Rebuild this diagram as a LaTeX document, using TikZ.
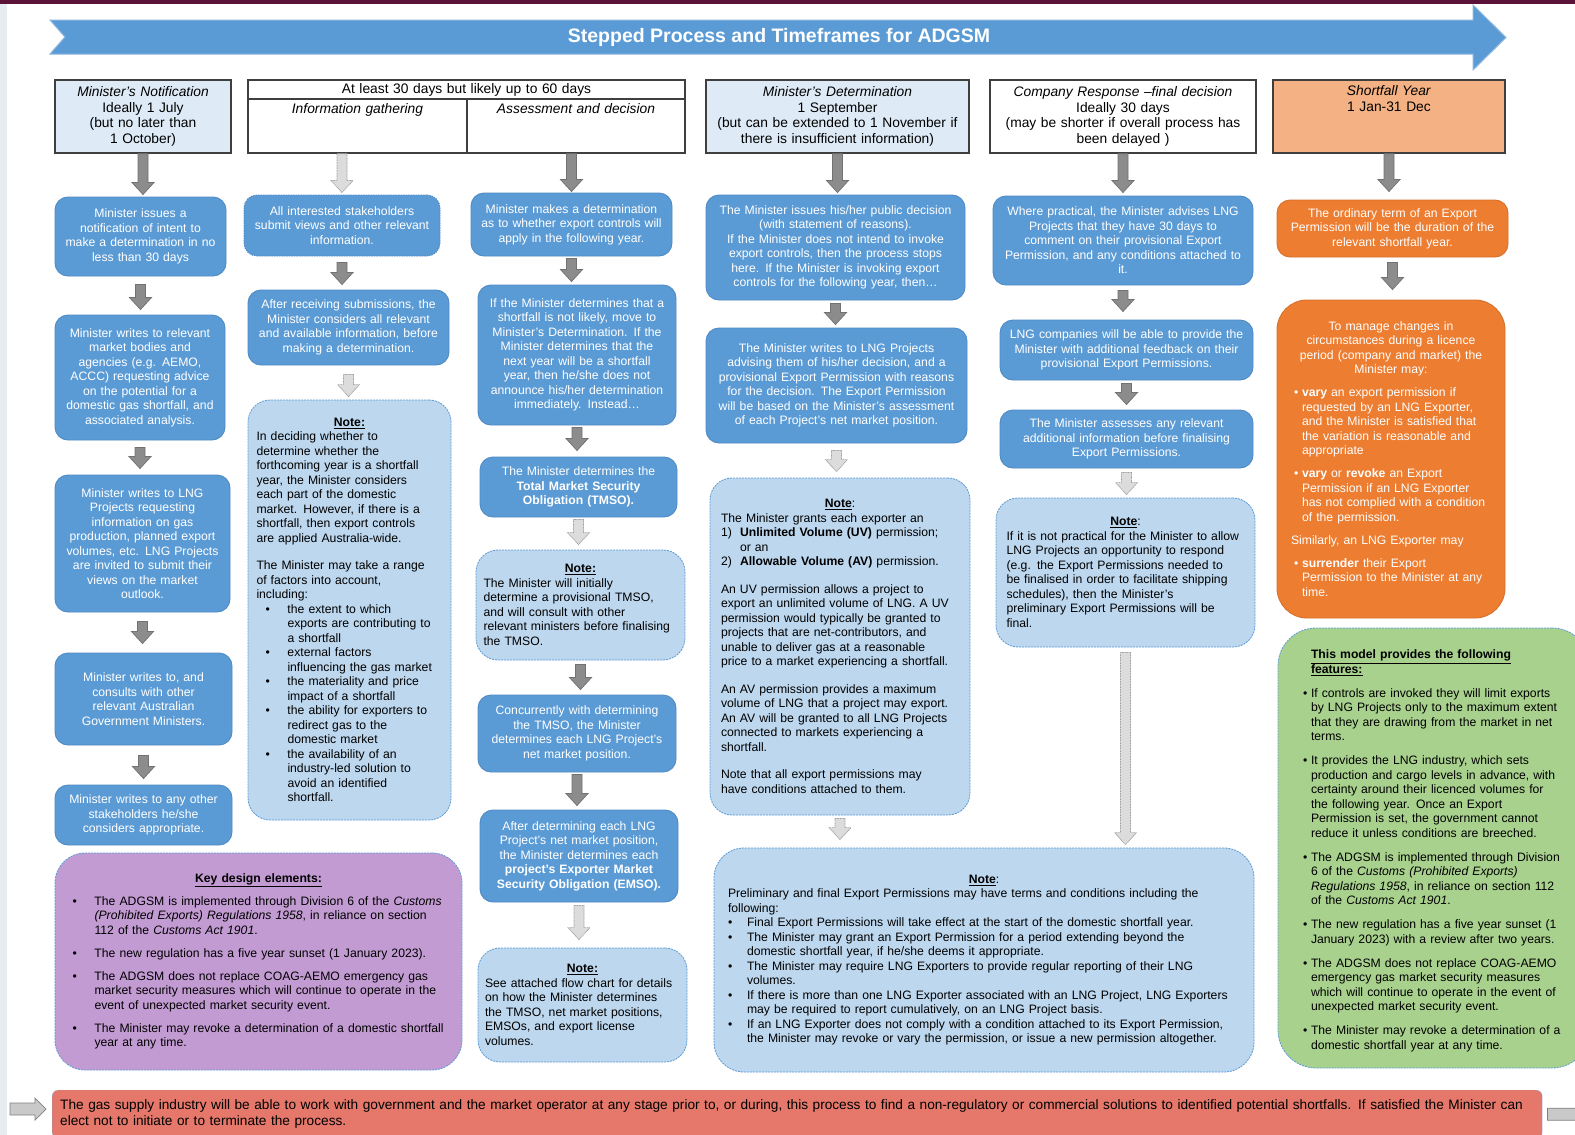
\documentclass[tikz,border=0pt]{standalone}
\usepackage{fontspec}
\setmainfont{Liberation Sans}
\usetikzlibrary{calc}

\definecolor{topband}{HTML}{5A1238}
\definecolor{leftband}{HTML}{E6ECEF}
\definecolor{titleblue}{HTML}{5B9BD5}
\definecolor{titleline}{HTML}{8DB6E0}
\definecolor{boxblue}{HTML}{5B9BD5}
\definecolor{boxline}{HTML}{4F8AC4}
\definecolor{noteblue}{HTML}{BDD7EE}
\definecolor{hdrblue}{HTML}{DEEBF7}
\definecolor{hdrorange}{HTML}{F4B183}
\definecolor{hdrline}{HTML}{3F3F3F}
\definecolor{orangebox}{HTML}{ED7D31}
\definecolor{greenbox}{HTML}{A9D18E}
\definecolor{purplebox}{HTML}{C39BD3}
\definecolor{barred}{HTML}{E5786A}
\definecolor{arrdark}{HTML}{8C8C8C}
\definecolor{arrdarkline}{HTML}{727272}
\definecolor{arrlight}{HTML}{DCDCDC}
\definecolor{arrlightline}{HTML}{A0A0A0}

\newcommand{\hitem}[4]{\par\noindent\hangindent=#3\hangafter=1\hspace*{#2}\makebox[\dimexpr#3-#2\relax][l]{#1}#4\par}

\begin{document}
\begin{tikzpicture}[x=1pt,y=-1pt]
\tikzstyle{hdr}=[draw=hdrline, line width=1.3pt, align=center, inner sep=0pt,
                 font=\fontsize{13.8}{15.5}\selectfont]
\tikzstyle{blbox}=[rounded corners=13pt, fill=boxblue, draw=boxline, line width=0.9pt,
                   text=white, align=center, inner sep=0pt,
                   font=\fontsize{12.2}{14.5}\selectfont]
\tikzstyle{notebox}=[rounded corners=22pt, fill=noteblue, draw=boxblue, line width=0.8pt,
                     dash pattern=on 2pt off 1pt, align=left, inner sep=0pt,
                     font=\fontsize{12.2}{14.5}\selectfont]
\tikzstyle{orbox}=[blbox, fill=orangebox, draw=orangebox!90!black]
\tikzstyle{blk}=[fill=arrdark, draw=arrdarkline, line width=0.7pt,
  to path={let \p1=(\tikztostart), \p2=(\tikztotarget) in
    (\x1-5,\y1) -- (\x1+5,\y1) -- (\x1+5,\y2+12) -- (\x1+11,\y2+12)
    -- (\x1,\y2) -- (\x1-11,\y2+12) -- (\x1-5,\y2+12) -- cycle}]
\tikzstyle{blklight}=[blk, fill=arrlight, draw=arrlightline, dash pattern=on 1pt off 0.6pt]
\tikzstyle{blkh}=[fill=arrlight!80!gray, draw=arrlightline!80!black, line width=0.7pt,
  to path={let \p1=(\tikztostart), \p2=(\tikztotarget) in
    (\x1,\y1+6) -- (\x2-11,\y1+6) -- (\x2-11,\y1+11) -- (\x2,\y1)
    -- (\x2-11,\y1-11) -- (\x2-11,\y1-6) -- (\x1,\y1-6) -- cycle}]

\useasboundingbox (0,0) rectangle (1575,1135);
\fill[white] (0,0) rectangle (1575,1135);
\fill[topband] (0,0) rectangle (1575,3.5);
\fill[leftband] (0,3.5) rectangle (7,1135);

\filldraw[fill=titleblue, draw=titleline, line width=1pt] (50,20) -- (1473,20) -- (1473,5)
  -- (1506,37.5) -- (1473,70) -- (1473,54) -- (50,54) -- (65,37) -- cycle;
\node[text=white, font=\bfseries\fontsize{19.5}{22}\selectfont] (title) at (779,37)
  {Stepped Process and Timeframes for ADGSM};

\node[hdr, fill=hdrblue, minimum width=176, minimum height=73, text width=174] (hnotif) at (143,116.5)
  {\textit{Minister's Notification}\\ Ideally 1 July\\ (but no later than\\ 1 October)};
\node[hdr, fill=white, minimum width=437, minimum height=19, text width=435] (hperiod) at (466.5,89.5)
  {At least 30 days but likely up to 60 days};
\node[hdr, minimum width=219, minimum height=54, text width=215] (hinfo) at (357.5,126)
  {\textit{Information gathering}\\ \strut\\ \strut};
\node[hdr, minimum width=218, minimum height=54, text width=214] (hassess) at (576,126)
  {\textit{Assessment and decision}\\ \strut\\ \strut};
\node[hdr, fill=hdrblue, minimum width=263, minimum height=73, text width=261] (hdeterm) at (837.5,116.5)
  {\textit{Minister's Determination}\\ 1 September\\ (but can be extended to 1 November if\\ there is insufficient information)};
\node[hdr, fill=white, minimum width=266, minimum height=73, text width=264] (hresp) at (1123,116.5)
  {\textit{Company Response –final decision}\\ Ideally 30 days\\ (may be shorter if overall process has\\ been delayed )};
\node[hdr, fill=hdrorange, minimum width=232, minimum height=73, text width=230] (hshort) at (1389,116.5)
  {\textit{Shortfall Year}\\ 1 Jan-31 Dec\\ \strut\\ \strut};

\node[blbox, minimum width=171, minimum height=79, text width=169] (issue) at (140.5,236.5)
  {Minister issues a\\ notification of intent to\\ make a determination in no\\ less than 30 days};
\node[blbox, minimum width=170, minimum height=125, text width=168] (bodies) at (140,377.5)
  {Minister writes to relevant\\ market bodies and\\ agencies (e.g. AEMO,\\ ACCC) requesting advice\\ on the potential for a\\ domestic gas shortfall, and\\ associated analysis.};
\node[blbox, minimum width=175, minimum height=137, text width=173] (lngreq) at (142.5,543.5)
  {Minister writes to LNG\\ Projects requesting\\ information on gas\\ production, planned export\\ volumes, etc. LNG Projects\\ are invited to submit their\\ views on the market\\ outlook.};
\node[blbox, minimum width=177, minimum height=92, text width=175] (govmin) at (143.5,699)
  {Minister writes to, and\\ consults with other\\ relevant Australian\\ Government Ministers.};
\node[blbox, minimum width=177, minimum height=60, text width=175] (others) at (143.5,815)
  {Minister writes to any other\\ stakeholders he/she\\ considers appropriate.};

\node[blbox, dash pattern=on 1.5pt off 1pt, minimum width=196, minimum height=61, text width=194] (submit) at (342,225.5)
  {All interested stakeholders\\ submit views and other relevant\\ information.};
\node[blbox, minimum width=201, minimum height=75, text width=199] (consider) at (348.5,327.5)
  {After receiving submissions, the\\ Minister considers all relevant\\ and available information, before\\ making a determination.};
\node[notebox, minimum width=203, minimum height=420, text width=186] (factors) at (349.5,610)
  {{\centering\underline{\textbf{Note:}}\par}
   In deciding whether to\\ determine whether the\\ forthcoming year is a shortfall\\ year, the Minister considers\\ each part of the domestic\\ market. However, if there is a\\ shortfall, then export controls\\ are applied Australia-wide.\par\vspace{13pt}
   The Minister may take a range\\ of factors into account,\\ including:
   \hitem{\textbullet}{9pt}{31pt}{the extent to which\newline exports are contributing to\newline a shortfall}
   \hitem{\textbullet}{9pt}{31pt}{external factors\newline influencing the gas market}
   \hitem{\textbullet}{9pt}{31pt}{the materiality and price\newline impact of a shortfall}
   \hitem{\textbullet}{9pt}{31pt}{the ability for exporters to\newline redirect gas to the\newline domestic market}
   \hitem{\textbullet}{9pt}{31pt}{the availability of an\newline industry-led solution to\newline avoid an identified\newline shortfall.}};

\node[blbox, minimum width=201, minimum height=63, text width=199] (decide) at (571.5,224.5)
  {Minister makes a determination\\ as to whether export controls will\\ apply in the following year.};
\node[blbox, minimum width=198, minimum height=140, text width=196] (ifshort) at (577,355)
  {If the Minister determines that a\\ shortfall is not likely, move to\\ Minister's Determination. If the\\ Minister determines that the\\ next year will be a shortfall\\ year, then he/she does not\\ announce his/her determination\\ immediately. Instead…};
\node[blbox, minimum width=197, minimum height=60, text width=195] (tmso) at (578.5,487)
  {The Minister determines the\\ \textbf{Total Market Security}\\ \textbf{Obligation (TMSO).}};
\node[notebox, minimum width=209, minimum height=110, text width=194] (provtmso) at (580.5,605)
  {{\centering\underline{\textbf{Note:}}\par}
   The Minister will initially\\ determine a provisional TMSO,\\ and will consult with other\\ relevant ministers before finalising\\ the TMSO.};
\node[blbox, minimum width=198, minimum height=77, text width=196] (netpos) at (577,733.5)
  {Concurrently with determining\\ the TMSO, the Minister\\ determines each LNG Project's\\ net market position.};
\node[blbox, minimum width=198, minimum height=92, text width=196] (emso) at (579,856)
  {After determining each LNG\\ Project's net market position,\\ the Minister determines each\\ \textbf{project's Exporter Market}\\ \textbf{Security Obligation (EMSO).}};
\node[notebox, minimum width=209, minimum height=114, text width=195] (flowref) at (582.5,1005)
  {{\centering\underline{\textbf{Note:}}\par}
   See attached flow chart for details\\ on how the Minister determines\\ the TMSO, net market positions,\\ EMSOs, and export license\\ volumes.};

\node[blbox, minimum width=259, minimum height=105, text width=257] (public) at (835.5,247.5)
  {The Minister issues his/her public decision\\ (with statement of reasons).\\ If the Minister does not intend to invoke\\ export controls, then the process stops\\ here. If the Minister is invoking export\\ controls for the following year, then…};
\node[blbox, minimum width=261, minimum height=115, text width=259] (advise) at (836.5,385.5)
  {The Minister writes to LNG Projects\\ advising them of his/her decision, and a\\ provisional Export Permission with reasons\\ for the decision. The Export Permission\\ will be based on the Minister's assessment\\ of each Project's net market position.};
\node[notebox, minimum width=260, minimum height=337, text width=238] (grants) at (840,646.5)
  {{\centering\underline{\textbf{Note}}:\par}
   The Minister grants each exporter an
   \hitem{1)}{0pt}{19pt}{\textbf{Unlimited Volume (UV)} permission;\newline or an}
   \hitem{2)}{0pt}{19pt}{\textbf{Allowable Volume (AV)} permission.}
   \vspace{13pt}
   An UV permission allows a project to\\ export an unlimited volume of LNG. A UV\\ permission would typically be granted to\\ projects that are net-contributors, and\\ unable to deliver gas at a reasonable\\ price to a market experiencing a shortfall.\par\vspace{13pt}
   An AV permission provides a maximum\\ volume of LNG that a project may export.\\ An AV will be granted to all LNG Projects\\ connected to markets experiencing a\\ shortfall.\par\vspace{13pt}
   Note that all export permissions may\\ have conditions attached to them.};

\node[blbox, minimum width=260, minimum height=89, text width=258] (comment) at (1123,240.5)
  {Where practical, the Minister advises LNG\\ Projects that they have 30 days to\\ comment on their provisional Export\\ Permission, and any conditions attached to\\ it.};
\node[blbox, minimum width=253, minimum height=60, text width=251] (feedback) at (1126.5,350)
  {LNG companies will be able to provide the\\ Minister with additional feedback on their\\ provisional Export Permissions.};
\node[blbox, minimum width=253, minimum height=58, text width=251] (assess) at (1126.5,439)
  {The Minister assesses any relevant\\ additional information before finalising\\ Export Permissions.};
\node[notebox, minimum width=259, minimum height=149, text width=238] (notpract) at (1125.5,572.5)
  {{\centering\underline{\textbf{Note}}:\par}
   If it is not practical for the Minister to allow\\ LNG Projects an opportunity to respond\\ (e.g. the Export Permissions needed to\\ be finalised in order to facilitate shipping\\ schedules), then the Minister's\\ preliminary Export Permissions will be\\ final.};
\node[notebox, rounded corners=30pt, minimum width=540, minimum height=224, text width=512] (terms) at (984,960)
  {{\centering\underline{\textbf{Note}}:\par}
   Preliminary and final Export Permissions may have terms and conditions including the\\ following:
   \hitem{\textbullet}{0pt}{19pt}{Final Export Permissions will take effect at the start of the domestic shortfall year.}
   \hitem{\textbullet}{0pt}{19pt}{The Minister may grant an Export Permission for a period extending beyond the\newline domestic shortfall year, if he/she deems it appropriate.}
   \hitem{\textbullet}{0pt}{19pt}{The Minister may require LNG Exporters to provide regular reporting of their LNG\newline volumes.}
   \hitem{\textbullet}{0pt}{19pt}{If there is more than one LNG Exporter associated with an LNG Project, LNG Exporters\newline may be required to report cumulatively, on an LNG Project basis.}
   \hitem{\textbullet}{0pt}{19pt}{If an LNG Exporter does not comply with a condition attached to its Export Permission,\newline the Minister may revoke or vary the permission, or issue a new permission altogether.}
   \vspace{15pt}};

\node[orbox, minimum width=231, minimum height=57, text width=229] (term) at (1392.5,228.5)
  {The ordinary term of an Export\\ Permission will be the duration of the\\ relevant shortfall year.};
\node[orbox, rounded corners=30pt, align=left, minimum width=228, minimum height=318, text width=200] (changes) at (1391,459)
  {{\centering To manage changes in\\ circumstances during a licence\\ period (company and market) the\\ Minister may:\par}
   \vspace{8.5pt}
   \hitem{\textbullet}{3pt}{11pt}{\textbf{vary} an export permission if\newline requested by an LNG Exporter,\newline and the Minister is satisfied that\newline the variation is reasonable and\newline appropriate}
   \vspace{8.5pt}
   \hitem{\textbullet}{3pt}{11pt}{\textbf{vary} or \textbf{revoke} an Export\newline Permission if an LNG Exporter\newline has not complied with a condition\newline of the permission.}
   \vspace{8.5pt}
   Similarly, an LNG Exporter may\par
   \vspace{8.5pt}
   \hitem{\textbullet}{3pt}{11pt}{\textbf{surrender} their Export\newline Permission to the Minister at any\newline time.}};
\node[notebox, fill=greenbox, rounded corners=38pt, minimum width=312, minimum height=440, text width=262] (features) at (1434,848)
  {\hitem{}{8pt}{8pt}{\underline{\textbf{This model provides the following}}\newline \underline{\textbf{features:}}}
   \vspace{9.5pt}
   \hitem{\textbullet}{0pt}{8pt}{If controls are invoked they will limit exports\newline by LNG Projects only to the maximum extent\newline that they are drawing from the market in net\newline terms.}
   \vspace{9.5pt}
   \hitem{\textbullet}{0pt}{8pt}{It provides the LNG industry, which sets\newline production and cargo levels in advance, with\newline certainty around their licenced volumes for\newline the following year. Once an Export\newline Permission is set, the government cannot\newline reduce it unless conditions are breeched.}
   \vspace{9.5pt}
   \hitem{\textbullet}{0pt}{8pt}{The ADGSM is implemented through Division\newline 6 of the \textit{Customs (Prohibited Exports)}\newline \textit{Regulations 1958}, in reliance on section 112\newline of the \textit{Customs Act 1901}.}
   \vspace{9.5pt}
   \hitem{\textbullet}{0pt}{8pt}{The new regulation has a five year sunset (1\newline January 2023) with a review after two years.}
   \vspace{9.5pt}
   \hitem{\textbullet}{0pt}{8pt}{The ADGSM does not replace COAG-AEMO\newline emergency gas market security measures\newline which will continue to operate in the event of\newline unexpected market security event.}
   \vspace{9.5pt}
   \hitem{\textbullet}{0pt}{8pt}{The Minister may revoke a determination of a\newline domestic shortfall year at any time.}};

\node[notebox, fill=purplebox, rounded corners=30pt, minimum width=407, minimum height=217, text width=378] (keydesign) at (258.5,961.5)
  {{\centering\underline{\textbf{Key design elements:}}\par}
   \vspace{8.5pt}
   \hitem{\textbullet}{3pt}{25pt}{The ADGSM is implemented through Division 6 of the \textit{Customs}\newline \textit{(Prohibited Exports) Regulations 1958}, in reliance on section\newline 112 of the \textit{Customs Act 1901}.}
   \vspace{8.5pt}
   \hitem{\textbullet}{3pt}{25pt}{The new regulation has a five year sunset (1 January 2023).}
   \vspace{8.5pt}
   \hitem{\textbullet}{3pt}{25pt}{The ADGSM does not replace COAG-AEMO emergency gas\newline market security measures which will continue to operate in the\newline event of unexpected market security event.}
   \vspace{8.5pt}
   \hitem{\textbullet}{3pt}{25pt}{The Minister may revoke a determination of a domestic shortfall\newline year at any time.}};

\node[fill=barred, draw=boxblue, dash pattern=on 1pt off 1pt, rounded corners=6pt, minimum width=1490,
      minimum height=48, text width=1474, inner sep=0pt, align=left, anchor=north west,
      font=\fontsize{13.65}{16}\selectfont] (industry) at (52,1090)
  {\hyphenpenalty=10000 The gas supply industry will be able to work with government and the market operator at any stage prior to, or during, this process to find a non-regulatory or commercial solutions to identified potential shortfalls. If satisfied the Minister can\\ elect not to initiate or to terminate the process.};
\coordinate (inflow) at (10,1109);
\coordinate (outflow) at (1600,1109);

\draw[blk] (hnotif.south) to ([yshift=2pt]issue.north);
\draw[blk] ([yshift=-8pt]issue.south) to ([yshift=5pt]bodies.north);
\draw[blk] ([yshift=-7pt]bodies.south) to ([yshift=6pt]lngreq.north);
\draw[blk] ([yshift=-9pt]lngreq.south) to ([yshift=9pt]govmin.north);
\draw[blk] ([yshift=-10pt]govmin.south) to ([yshift=6pt]others.north);

\draw[blklight] (submit |- hinfo.south) to ([yshift=2pt]submit.north);
\draw[blk] ([yshift=-6pt]submit.south) to ([yshift=5pt]consider.north);
\draw[blklight] ([yshift=-9pt]consider.south) to ([yshift=3pt]factors.north);

\draw[blk] (decide |- hassess.south) to ([yshift=1pt]decide.north);
\draw[blk] ([yshift=-2pt]decide.south) to ([yshift=3pt]ifshort.north);
\draw[blk] ([yshift=-2pt]ifshort.south) to ([yshift=6pt]tmso.north);
\draw[blklight] ([yshift=-2pt]tmso.south) to ([yshift=5pt]provtmso.north);
\draw[blk] ([yshift=-4pt]provtmso.south) to ([yshift=5pt]netpos.north);
\draw[blk] ([yshift=-2pt]netpos.south) to ([yshift=4pt]emso.north);
\draw[blklight] ([yshift=-3pt]emso.south) to ([yshift=8pt]flowref.north);

\draw[blk] (hdeterm.south) to ([yshift=2pt]public.north);
\draw[blk] ([yshift=-3pt]public.south) to ([yshift=3pt]advise.north);
\draw[blklight] ([yshift=-7pt]advise.south) to ([yshift=6pt]grants.north);
\draw[blklight] ([yshift=-3pt]grants.south) to ([yshift=8pt]terms.north);

\draw[blk] (hresp.south) to ([yshift=3pt]comment.north);
\draw[blk] ([yshift=-5pt]comment.south) to ([yshift=8pt]feedback.north);
\draw[blk] ([yshift=-3pt]feedback.south) to ([yshift=5pt]assess.north);
\draw[blklight] ([yshift=-4pt]assess.south) to ([yshift=3pt]notpract.north);
\draw[blklight] ([yshift=-5pt]notpract.south) to ([yshift=3pt]terms.north);

\draw[blk] (hshort.south) to ([yshift=8pt]term.north);
\draw[blk] ([yshift=-5pt]term.south) to ([yshift=10pt]changes.north);

\draw[blkh] (inflow) to ([xshift=-6pt]industry.west);
\draw[blkh] ([xshift=5pt]industry.east) to (outflow);
\end{tikzpicture}
\end{document}
